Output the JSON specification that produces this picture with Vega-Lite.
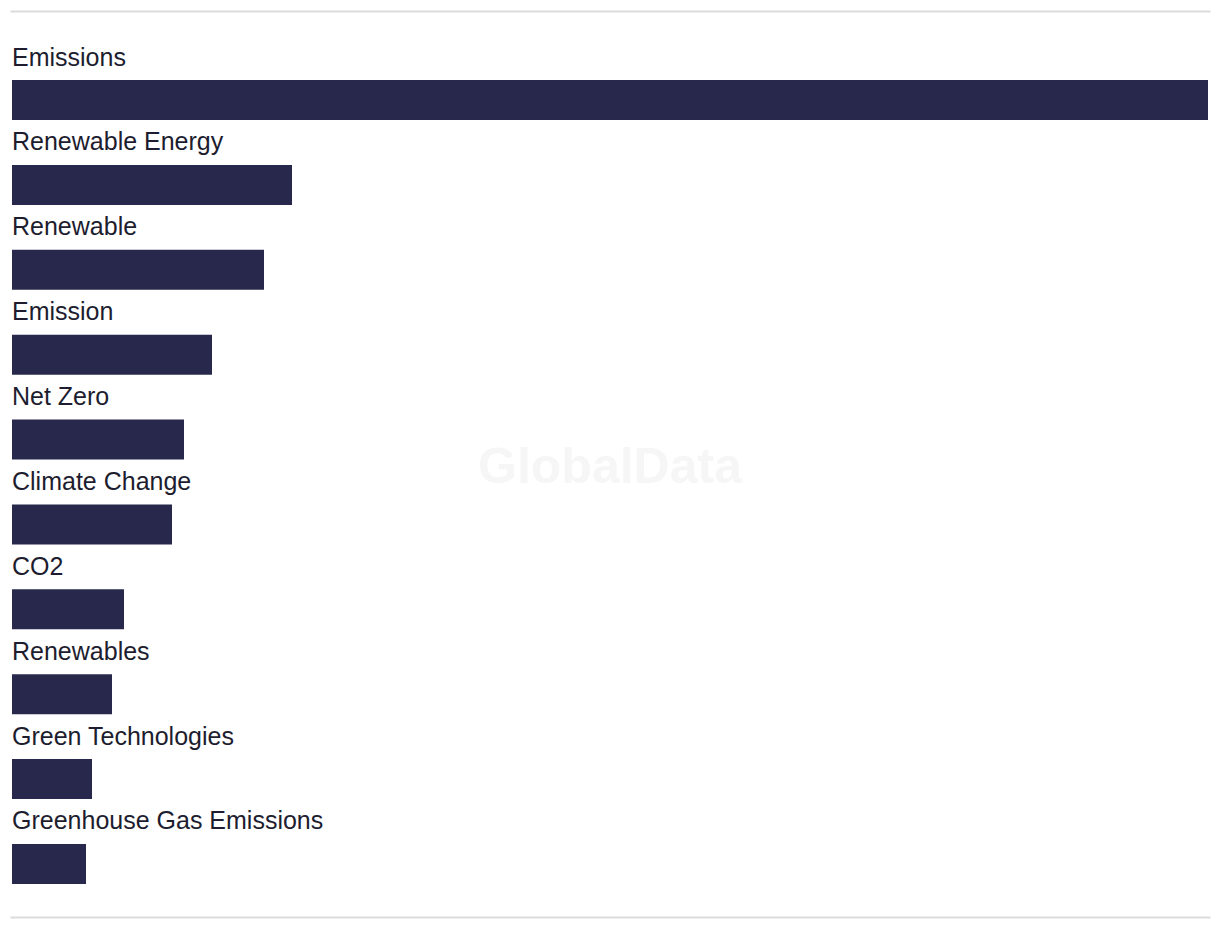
{
  "$schema": "https://vega.github.io/schema/vega-lite/v6.json",
  "width": 1200,
  "height": 906,
  "autosize": {"type": "none"},
  "padding": {"left": 10, "right": 10, "top": 11, "bottom": 11},
  "background": "white",
  "config": {"view": {"stroke": null}},
  "data": {
    "values": [
      {"term": "Emissions", "value": 299},
      {"term": "Renewable Energy", "value": 70},
      {"term": "Renewable", "value": 63},
      {"term": "Emission", "value": 50},
      {"term": "Net Zero", "value": 43},
      {"term": "Climate Change", "value": 40},
      {"term": "CO2", "value": 28},
      {"term": "Renewables", "value": 25},
      {"term": "Green Technologies", "value": 20},
      {"term": "Greenhouse Gas Emissions", "value": 18.5}
    ]
  },
  "layer": [
    {
      "mark": {"type": "bar", "height": 40, "color": "#27284b"},
      "encoding": {
        "y": {
          "field": "term",
          "type": "nominal",
          "sort": null,
          "scale": {
            "domain": ["Emissions", "Renewable Energy", "Renewable", "Emission", "Net Zero", "Climate Change", "CO2", "Renewables", "Green Technologies", "Greenhouse Gas Emissions"],
            "range": [46.56, 895.44],
            "paddingInner": 0,
            "paddingOuter": 0
          },
          "axis": null
        },
        "x": {
          "field": "value",
          "type": "quantitative",
          "scale": {"domain": [-0.5, 299.5], "nice": false, "zero": false},
          "axis": {"orient": "top", "domain": true, "domainColor": "#dcdcdc", "domainWidth": 2, "ticks": false, "labels": false, "grid": false, "title": null}
        }
      }
    },
    {
      "mark": {"type": "text", "align": "left", "baseline": "alphabetic", "font": "Liberation Sans", "fontSize": 25, "color": "#1d1d2f", "yOffset": -34.5},
      "encoding": {
        "y": {"field": "term", "type": "nominal", "sort": null},
        "x": {"datum": 0, "axis": {"orient": "bottom", "domain": true, "domainColor": "#dcdcdc", "domainWidth": 2, "ticks": false, "labels": false, "grid": false, "title": null}},
        "text": {"field": "term"}
      }
    },
    {
      "data": {"values": [{"wm": "GlobalData"}]},
      "mark": {"type": "text", "align": "center", "baseline": "alphabetic", "font": "Liberation Sans", "fontWeight": "bold", "fontSize": 50, "color": "#f6f6f6", "yOffset": 43},
      "encoding": {
        "x": {"datum": 149.5, "axis": null},
        "y": {"datum": "Net Zero"},
        "text": {"field": "wm"}
      }
    }
  ],
  "resolve": {"axis": {"x": "independent"}}
}
